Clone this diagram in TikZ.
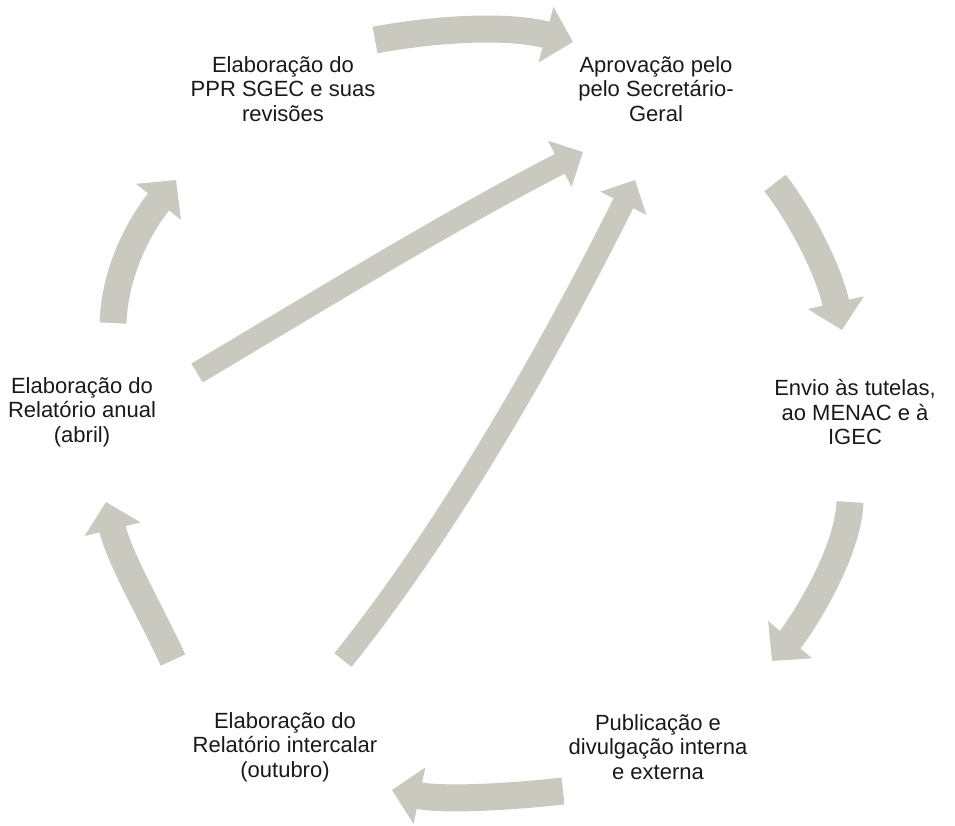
\documentclass[tikz,border=0pt]{standalone}
\usepackage{fontspec}
\setmainfont{Liberation Sans}
\usetikzlibrary{arrows.meta}
\definecolor{arr}{RGB}{201,201,191}
\definecolor{txt}{RGB}{25,25,25}
\begin{document}
\begin{tikzpicture}[x=1pt,y=-1pt,
  lbl/.style={align=center, text=txt, font=\fontsize{22}{24.5}\selectfont, inner sep=0pt},
  flow/.style={draw=arr, line width=27pt, -{Triangle[width=56pt,length=28pt]}},
  diag/.style={draw=arr, line width=22pt, -{Triangle[width=50pt,length=26pt]}}]
\useasboundingbox (0,0) rectangle (955,825);

% nodes
\node[lbl] (n1) at (283,89) {Elaboração do\\PPR SGEC e suas\\revisões};
\node[lbl] (n2) at (656,89) {Aprovação pelo\\pelo Secretário-\\Geral};
\node[lbl] (n3) at (855,412) {Envio às tutelas,\\ao MENAC e à\\IGEC};
\node[lbl] (n4) at (658,747) {Publicação e\\divulgação interna\\e externa};
\node[lbl] (n5) at (285,747) {Elaboração do\\Relatório intercalar\\(outubro)};
\node[lbl] (n6) at (82,412) {Elaboração do\\Relatório anual\\(abril)};

% connector end points
\coordinate (a1s) at (375,40);   \coordinate (a1e) at (573,42);
\coordinate (a2s) at (775,183);  \coordinate (a2e) at (842,330);
\coordinate (a3s) at (850,502);  \coordinate (a3e) at (772,661);
\coordinate (a4s) at (563,791);  \coordinate (a4e) at (392,790);
\coordinate (a5s) at (173,660);  \coordinate (a5e) at (106,502);
\coordinate (a6s) at (113,323);  \coordinate (a6e) at (176,180);
\coordinate (a7s) at (197,373);  \coordinate (a7e) at (583,152);
\coordinate (a8s) at (343,660);  \coordinate (a8e) at (635,180);

% cycle arrows
\draw[flow] (a1s) .. controls (440,28) and (510,25) .. (a1e);
\draw[flow] (a2s) .. controls (800,215) and (828,268) .. (a2e);
\draw[flow] (a3s) .. controls (848,555) and (800,628) .. (a3e);
\draw[flow] (a4s) .. controls (500,798) and (440,800) .. (a4e);
\draw[flow] (a5s) .. controls (150,610) and (120,560) .. (a5e);
\draw[flow] (a6s) .. controls (115,270) and (140,225) .. (a6e);

% diagonal arrows
\draw[diag] (a7s) .. controls (320,300) and (450,220) .. (a7e);
\draw[diag] (a8s) .. controls (455,520) and (555,340) .. (a8e);
\end{tikzpicture}
\end{document}
